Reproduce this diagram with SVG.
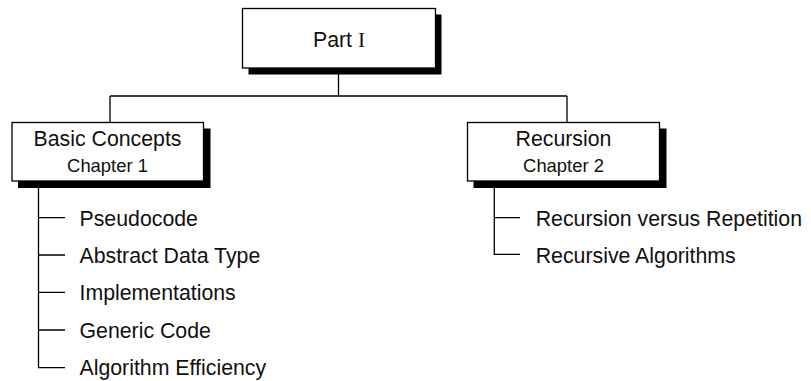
<svg xmlns="http://www.w3.org/2000/svg" width="811" height="381" viewBox="0 0 811 381">
<style>
.box{fill:#fff;stroke:#000;stroke-width:1.3}
.shadow{fill:#000}
.ln{fill:none;stroke:#000;stroke-width:1.3}
.t{font-family:"Liberation Sans",Arial,sans-serif;font-size:21.3px;fill:#111}
.s{font-family:"Liberation Sans",Arial,sans-serif;font-size:18.4px;fill:#111}
.c{text-anchor:middle}
</style>
<rect width="811" height="381" fill="#fff"/>
<g id="connectors">
<path class="ln" d="M338.5 68V96M110 96H567M110 96V122.5M567 96V122.5"/>
<path class="ln" d="M38.5 181V367.7H65M38.5 217.7H65M38.5 255H65M38.5 292.3H65M38.5 330H65"/>
<path class="ln" d="M494.3 181V254.3H520M494.3 217.7H520"/>
</g>
<g id="part1">
<rect class="shadow" x="248.5" y="14.5" width="193" height="60"/>
<rect class="box" x="242.5" y="8.5" width="193" height="59.5"/>
<text class="t c" x="339" y="46.5">Part <tspan font-family="'Liberation Serif',serif">I</tspan></text>
</g>
<g id="basic">
<rect class="shadow" x="18" y="128.5" width="192.5" height="59.5"/>
<rect class="box" x="12" y="122.5" width="191.5" height="58.5"/>
<text class="t c" x="107.5" y="146">Basic Concepts</text>
<text class="s c" x="107.5" y="171.5">Chapter 1</text>
</g>
<g id="recursion">
<rect class="shadow" x="473.5" y="128.5" width="193" height="59.5"/>
<rect class="box" x="467.5" y="122.5" width="192" height="58.5"/>
<text class="t c" x="563.5" y="146">Recursion</text>
<text class="s c" x="563.5" y="171.5">Chapter 2</text>
</g>
<g id="basic-items">
<text class="t" x="79.5" y="225.7">Pseudocode</text>
<text class="t" x="79.5" y="263">Abstract Data Type</text>
<text class="t" x="79.5" y="300.3">Implementations</text>
<text class="t" x="79.5" y="337.6">Generic Code</text>
<text class="t" x="79.5" y="375">Algorithm Efficiency</text>
</g>
<g id="recursion-items">
<text class="t" x="535.7" y="225.7">Recursion versus Repetition</text>
<text class="t" x="535.7" y="263">Recursive Algorithms</text>
</g>
</svg>
